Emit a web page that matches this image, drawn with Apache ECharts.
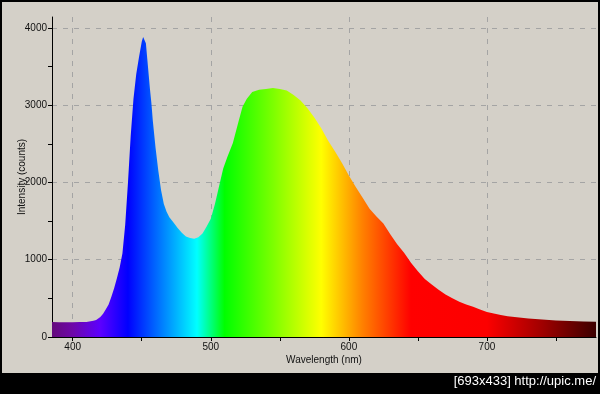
<!DOCTYPE html>
<html>
<head>
<meta charset="utf-8">
<script src="https://cdn.jsdelivr.net/npm/echarts@6/dist/echarts.min.js"></script>
<style>
  html, body { margin: 0; padding: 0; background: #000; }
  #wrap { position: relative; width: 600px; height: 394px; background: #000; overflow: hidden; }
  #panel { position: absolute; left: 2px; top: 2px; width: 596px; height: 371px; background: #d4d0c8; }
  #chart { position: absolute; left: 0; top: 0; width: 600px; height: 394px; }
</style>
</head>
<body>
<div id="wrap"><div id="panel"></div><div id="chart"></div></div>
<script>
// Wavelength (nm) and intensity (counts)
const wavelengths = [385,390,395,400,405,410,415,417,420,422,424,426,428,430,432,434,436,438,440,442,444,446,448,450,451,452,453,454,456,457,458,460,462,464,466,468,470,473,476,479,482,485,488,491,494,497,500,503,506,509,512,516,520,523,526,530,535,540,545,550,555,560,565,570,575,580,585,590,595,600,605,610,615,620,625,630,635,640,645,650,655,660,665,670,675,680,685,690,695,700,705,710,715,720,730,740,750,760,770,779];
const intensity   = [195,190,192,190,193,195,210,220,260,300,360,420,520,630,760,900,1080,1450,1990,2600,3080,3400,3620,3820,3880,3890,3800,3600,3200,3025,2800,2450,2150,1900,1720,1620,1550,1480,1410,1350,1300,1280,1270,1290,1340,1430,1530,1720,1950,2180,2330,2510,2780,2980,3080,3170,3200,3210,3220,3210,3190,3130,3060,2960,2840,2700,2540,2400,2250,2090,1940,1800,1660,1560,1470,1330,1200,1090,960,850,750,680,610,550,500,455,420,390,355,325,305,285,270,260,240,225,215,208,202,198];

const xMajorValues = [400,500,600,700];
const xMinorValues = [450,550,650,750];
const yMajorValues = [0,1000,2000,3000,4000];
const yMinorValues = [500,1500,2500,3500];

const xMin = 385, xMax = 779, yMax = 4140;

// spectral colour stops (wavelength -> colour), style only
const spectrumStops = [
  [385,'#640a7c'],[400,'#6e06a8'],[420,'#5c00ff'],[440,'#0000ff'],[465,'#0080ff'],
  [490,'#00ffff'],[510,'#00ff00'],[545,'#7cff00'],[580,'#ffff00'],[610,'#ff8000'],
  [645,'#ff0000'],[700,'#fc0000'],[740,'#a00000'],[779,'#3c0000']
];

const chart = echarts.init(document.getElementById('chart'), null, {renderer: 'canvas'});
const font = 'Liberation Sans, Arial, sans-serif';
const dashed = {show: true, lineStyle: {color: '#a4a4a4', type: [5, 6], width: 1}};
const plain = v => String(v);

chart.setOption({
  backgroundColor: 'transparent',
  animation: false,
  grid: {left: 52, right: 4, top: 17, bottom: 57, containLabel: false, outerBoundsMode: 'none'},
  xAxis: [{
    type: 'value', min: xMin, max: xMax,
    name: 'Wavelength (nm)', nameLocation: 'middle', nameGap: 18, nameMoveOverlap: false,
    nameTextStyle: {color: '#111', fontSize: 10, fontFamily: font},
    axisLine: {show: true, onZero: false, lineStyle: {color: '#000', width: 1}},
    axisTick: {show: true, length: 4, customValues: xMajorValues, lineStyle: {color: '#000'}},
    axisLabel: {show: true, customValues: xMajorValues, margin: 5, color: '#111', fontSize: 10, fontFamily: font, formatter: plain},
    splitLine: dashed
  }, {
    type: 'value', min: xMin, max: xMax, position: 'bottom',
    axisLine: {show: false, onZero: false},
    axisTick: {show: true, length: 4, customValues: xMinorValues, lineStyle: {color: '#000'}},
    axisLabel: {show: false},
    splitLine: {show: false}
  }],
  yAxis: [{
    type: 'value', min: 0, max: yMax,
    name: 'Intensity (counts)', nameLocation: 'middle', nameGap: 25, nameRotate: 90, nameMoveOverlap: false,
    nameTextStyle: {color: '#111', fontSize: 10, fontFamily: font},
    axisLine: {show: true, lineStyle: {color: '#000', width: 1}},
    axisTick: {show: true, length: 4, customValues: yMajorValues, lineStyle: {color: '#000'}},
    axisLabel: {show: true, customValues: yMajorValues, margin: 5, color: '#111', fontSize: 10, fontFamily: font, formatter: plain},
    splitLine: dashed
  }, {
    type: 'value', min: 0, max: yMax, position: 'left',
    axisLine: {show: false},
    axisTick: {show: true, length: 4, customValues: yMinorValues, lineStyle: {color: '#000'}},
    axisLabel: {show: false},
    splitLine: {show: false}
  }],
  graphic: [{
    type: 'text', right: 4, top: 375,
    style: {text: '[693x433] http://upic.me/', fill: '#fff', fontSize: 13, fontFamily: font}
  }],
  series: [{
    type: 'line',
    xAxisIndex: 0, yAxisIndex: 0,
    data: wavelengths.map((w, i) => [w, intensity[i]]),
    showSymbol: false, symbol: 'none',
    lineStyle: {width: 0},
    areaStyle: {
      opacity: 1,
      color: new echarts.graphic.LinearGradient(0, 0, 1, 0,
        spectrumStops.map(s => ({offset: (s[0] - xMin) / (xMax - xMin), color: s[1]})))
    }
  }]
});
</script>
</body>
</html>
